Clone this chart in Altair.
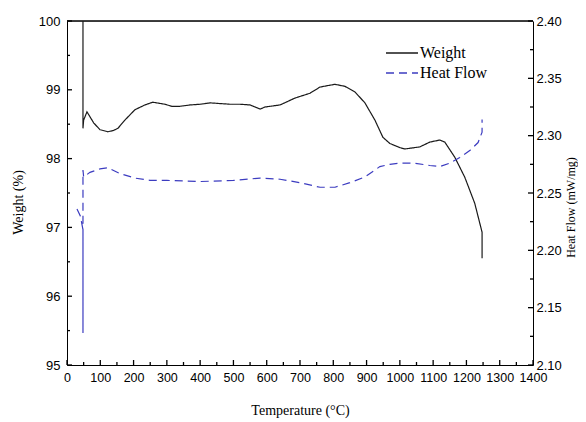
import altair as alt
import pandas as pd

# Weight (%) curve: temperature (°C) and value
w_temp = [48, 48, 50, 60, 80, 99, 123, 140, 153, 174, 204, 234, 258, 294, 315, 339, 370,
          400, 430, 460, 490, 520, 550, 580, 595, 640, 685, 730, 760, 805, 835, 865, 895,
          925, 949, 970, 1000, 1015, 1060, 1090, 1120, 1135, 1165, 1195, 1225, 1247, 1247]
w_val = [100.0, 98.44, 98.56, 98.68, 98.52, 98.42, 98.39, 98.41, 98.44, 98.56, 98.71, 98.78,
         98.82, 98.79, 98.76, 98.76, 98.78, 98.79, 98.81, 98.80, 98.79, 98.79, 98.78, 98.72,
         98.75, 98.78, 98.88, 98.95, 99.04, 99.08, 99.05, 98.97, 98.81, 98.56, 98.31, 98.22,
         98.16, 98.14, 98.17, 98.24, 98.27, 98.24, 98.02, 97.73, 97.35, 96.93, 96.55]

# Heat flow (mW/mg) curve
h_temp = [30, 40, 48, 48, 48, 50, 69, 99, 123, 159, 204, 249, 300, 400, 500, 580, 640, 700,
          760, 805, 850, 895, 940, 970, 1000, 1045, 1090, 1120, 1150, 1180, 1210, 1235, 1247, 1247]
h_val = [2.236, 2.230, 2.218, 2.128, 2.270, 2.264, 2.268, 2.271, 2.272, 2.267, 2.263, 2.261,
         2.261, 2.260, 2.261, 2.263, 2.262, 2.259, 2.255, 2.255, 2.259, 2.264, 2.273, 2.275,
         2.276, 2.276, 2.274, 2.273, 2.276, 2.281, 2.287, 2.294, 2.303, 2.314]

series_names = ["Weight", "Heat Flow"]
series_colors = ["#1a1a1a", "#3c3cc0"]
series_dashes = [[1, 0], [8, 5]]

x_major = list(range(0, 1401, 100))
x_minor = list(range(50, 1400, 100))
w_major = [95, 96, 97, 98, 99, 100]
w_minor = [95.5, 96.5, 97.5, 98.5, 99.5]
w_top = [100]
h_major = [2.10, 2.15, 2.20, 2.25, 2.30, 2.35, 2.40]
h_minor = [2.125, 2.175, 2.225, 2.275, 2.325, 2.375]

W, H = 466, 344
X0, X1 = 0, 1400          # temperature axis range
Y0, Y1 = 95, 100          # weight axis range
sans = "Liberation Sans"
serif = "Liberation Serif"

# tick lengths expressed through the scales (major 5 px, minor 3 px)
tx_major = 5 * (X1 - X0) / W
tx_minor = 3 * (X1 - X0) / W
ty_major = 5 * (Y1 - Y0) / H
ty_minor = 3 * (Y1 - Y0) / H

wdf = pd.DataFrame({"T": w_temp, "v": w_val, "i": range(len(w_temp)), "series": "Weight"})
hdf = pd.DataFrame({"T": h_temp, "v": h_val, "i": range(len(h_temp)), "series": "Heat Flow"})

xscale = alt.Scale(domain=[X0, X1], nice=False)
wscale = alt.Scale(domain=[Y0, Y1], nice=False)
hscale = alt.Scale(domain=[2.10, 2.40], nice=False)

xaxis = alt.Axis(title="Temperature (°C)", values=x_major, format="d", ticks=False, grid=False,
                 labelOverlap=False, labelFlush=False,
                 labelFont=sans, labelFontSize=12.5, labelPadding=6, labelColor="black",
                 titleFont=serif, titleFontSize=14, titleFontWeight="normal",
                 titleColor="black", titlePadding=20, domainColor="black")
waxis = alt.Axis(title="Weight (%)", values=w_major, ticks=False, grid=False,
                 labelOverlap=False, labelFlush=False,
                 labelFont=sans, labelFontSize=13, labelPadding=7, labelColor="black",
                 titleFont=serif, titleFontSize=14, titleFontWeight="normal",
                 titleColor="black", titlePadding=13, titleY=181, domainColor="black")
haxis = alt.Axis(title="Heat Flow (mW/mg)", orient="right", values=h_major,
                 format=".2f", ticks=False, grid=False,
                 labelOverlap=False, labelFlush=False,
                 labelFont=sans, labelFontSize=13, labelPadding=3, labelColor="black",
                 titleFont=serif, titleFontSize=12, titleFontWeight="normal",
                 titleColor="black", titlePadding=16, titleAngle=270, titleY=186,
                 domainColor="black")

color = alt.Color("series:N", scale=alt.Scale(domain=series_names, range=series_colors),
                  legend=alt.Legend(title=None, orient="none", legendX=327, legendY=24,
                                    symbolType="M-3.2,0H3.2", symbolSize=100,
                                    symbolStrokeWidth=1.3,
                                    labelFont=serif, labelFontSize=16,
                                    labelColor="black", labelOffset=10, rowPadding=4,
                                    padding=0))
dash = alt.StrokeDash("series:N", scale=alt.Scale(domain=series_names, range=series_dashes),
                      legend=None)

weight_line = alt.Chart(wdf).mark_line(strokeWidth=1.2).encode(
    x=alt.X("T:Q", scale=xscale, axis=xaxis),
    y=alt.Y("v:Q", scale=wscale, axis=waxis),
    color=color, strokeDash=dash, order="i:Q",
)

hf_line = alt.Chart(hdf).mark_line(strokeWidth=1.2).encode(
    x=alt.X("T:Q", scale=xscale, axis=xaxis),
    y=alt.Y("v:Q", scale=hscale, axis=haxis),
    color=color, strokeDash=dash, order="i:Q",
)


def ytick(vals, scale, axis, t0, t1):
    return alt.Chart(pd.DataFrame({"v": vals})).mark_rule(color="black", strokeWidth=1.3).encode(
        y=alt.Y("v:Q", scale=scale, axis=axis),
        x=alt.X(datum=t0, scale=xscale, axis=xaxis), x2=alt.X2(datum=t1))


def xtick(vals, length):
    return alt.Chart(pd.DataFrame({"T": vals})).mark_rule(color="black", strokeWidth=1.3).encode(
        x=alt.X("T:Q", scale=xscale, axis=xaxis),
        y=alt.Y(datum=Y0, scale=wscale, axis=waxis), y2=alt.Y2(datum=Y0 + length))


left = alt.layer(
    ytick(w_top, wscale, waxis, X0, X1),
    ytick(w_major, wscale, waxis, X0, X0 + tx_major),
    ytick(w_minor, wscale, waxis, X0, X0 + tx_minor),
    xtick(x_major, ty_major), xtick(x_minor, ty_minor),
    weight_line,
)
right = alt.layer(
    ytick(h_major, hscale, haxis, X1 - tx_major, X1),
    ytick(h_minor, hscale, haxis, X1 - tx_minor, X1),
    hf_line,
)

chart = alt.layer(left, right).resolve_scale(y="independent").properties(
    width=W, height=H,
    autosize=alt.AutoSizeParams(type="none"),
    padding={"left": 59, "top": 13, "right": 45, "bottom": 56},
)

chart.save("out.html", embed_options={"renderer": "svg", "actions": False})
